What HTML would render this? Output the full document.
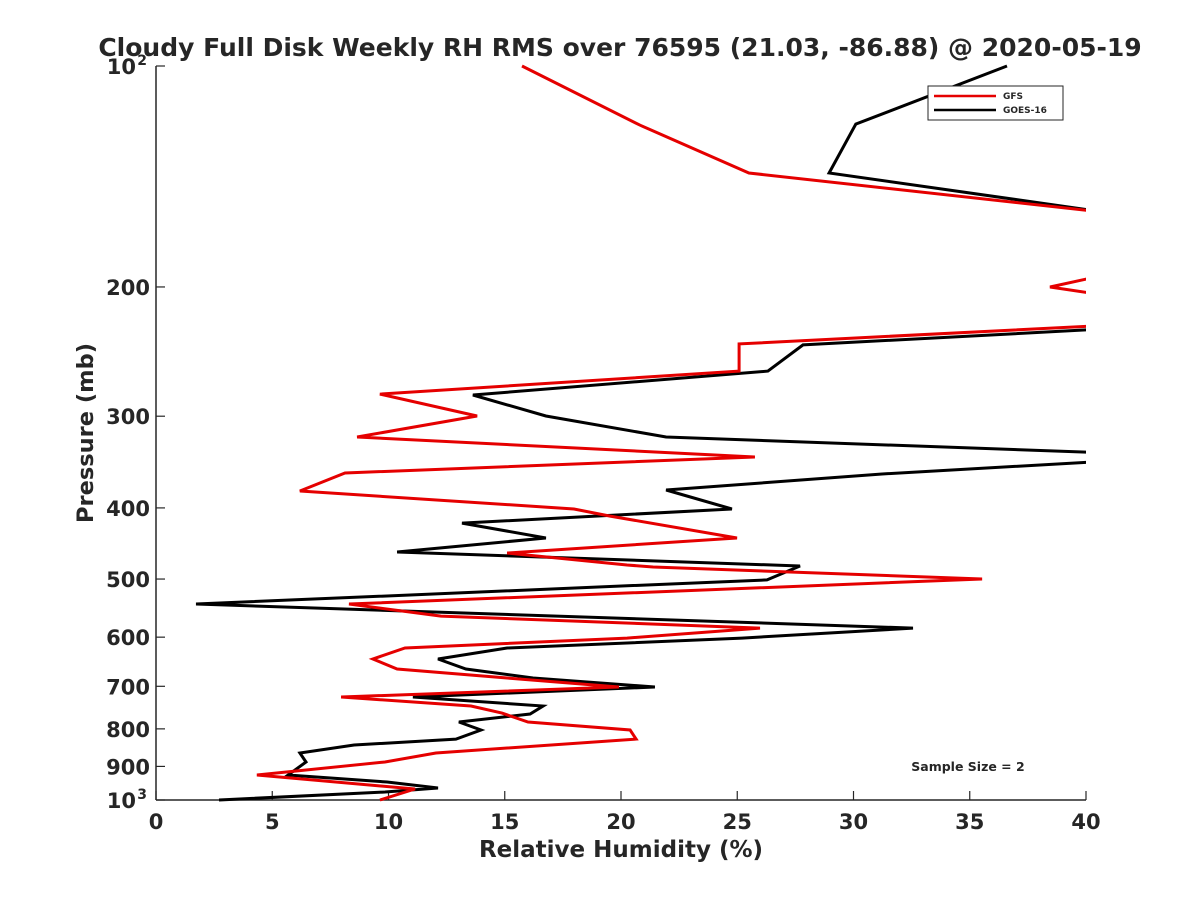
<!DOCTYPE html>
<html><head><meta charset="utf-8"><style>
body{margin:0;background:#fff}
svg text{font-family:"DejaVu Sans","Liberation Sans",sans-serif;font-weight:bold;fill:#262626}
</style></head><body>
<svg id="chart" width="1200" height="900" xmlns="http://www.w3.org/2000/svg">
<text x="620" y="56" text-anchor="middle" font-size="25">Cloudy Full Disk Weekly RH RMS over 76595 (21.03, -86.88) @ 2020-05-19</text>
<defs><clipPath id="plotclip"><rect x="156" y="60" width="930" height="742"/></clipPath></defs>
<g id="grid"></g>
<g id="series" clip-path="url(#plotclip)"></g>
<text x="621" y="857" text-anchor="middle" font-size="23">Relative Humidity (%)</text>
<text transform="translate(93,433) rotate(-90)" text-anchor="middle" font-size="22.5">Pressure (mb)</text>
<g>
<rect x="928" y="86" width="135" height="34" fill="#fff" stroke="#262626" stroke-width="1"/>
<line x1="934" y1="96" x2="996" y2="96" stroke="#e50000" stroke-width="2.5"/>
<text x="1003" y="99" font-size="9">GFS</text>
<line x1="934" y1="110" x2="996" y2="110" stroke="#000" stroke-width="2.5"/>
<text x="1003" y="113" font-size="9">GOES-16</text>
</g>
<text x="968" y="771" text-anchor="middle" font-size="12.5" fill="#000">Sample Size = 2</text>
</svg>
<script>
const xTicks=[0,5,10,15,20,25,30,35,40];
const yTicks=[100,200,300,400,500,600,700,800,900,1000];
const yTickLabels=["10|2","200","300","400","500","600","700","800","900","10|3"];
const gfsRH=[15.74,20.82,25.5,41,null,40.2,38.45,40.2,null,40.2,25.08,25.08,9.63,13.81,8.65,25.76,8.13,6.19,17.98,19.53,24.99,15.10,20.26,21.38,35.53,8.30,12.26,25.98,20.26,10.71,9.33,10.37,15.10,19.91,7.96,13.55,14.88,16.0,20.39,20.65,12.04,9.85,4.34,11.14,9.63];
const gfsP=[100,120.4,139.9,158.5,null,194.5,200,203.9,null,226.1,239.1,260.4,279.9,299.8,320.2,341,358.5,379.3,401.4,410.4,439.6,460.8,478.4,481.4,500,540.8,561.6,583.2,601.7,620.8,642.6,663.1,682.1,701.6,724,744.7,761.3,783,802.9,826,863,887.7,924.7,966,1000];
const goesRH=[36.6,30.1,28.95,41,null,41,27.83,26.32,13.63,16.77,21.94,41,41,31.23,21.94,24.77,13.16,16.77,10.37,27.7,26.28,1.72,32.56,25.2,15.10,12.13,13.33,16.22,21.46,11.05,16.65,16.09,13.03,13.98,12.9,8.52,6.19,6.45,5.68,9.94,12.13,9.85,2.71];
const goesP=[100,120,139.9,158.5,null,228,239.9,260.4,280.7,299.8,320.2,336.7,345.3,359.6,378.1,401.4,419.5,439.6,459.3,479.9,501.4,540.8,583.2,601.7,620.8,642.6,663.1,682.1,701.6,724,744.7,763.6,783,802.9,826,841.4,863,887.7,924.7,945,963,975.2,1000];

const X0=156,X1=1086,Y0=66,Y1=800;
function xs(v){return X0+(v-0)/(40-0)*(X1-X0);}
function ys(p){return Y0+(Math.log10(p)-2)*(Y1-Y0);}
const NS="http://www.w3.org/2000/svg";
const grid=document.getElementById('grid');
const series=document.getElementById('series');
function mk(tag,attrs,parent){const e=document.createElementNS(NS,tag);for(const k in attrs)e.setAttribute(k,attrs[k]);parent.appendChild(e);return e;}

const ax1=mk('line',{x1:X0,y1:Y0,x2:X0,y2:Y1,stroke:'#262626','stroke-width':1.5},grid);


const ax2=mk('line',{x1:X0,y1:Y1,x2:X1,y2:Y1,stroke:'#262626','stroke-width':1.5},grid);



xTicks.forEach((t,i)=>{
  const x=xs(t);
  const tk=mk('line',{x1:x,y1:Y1,x2:x,y2:Y1-9,stroke:'#262626','stroke-width':1.2},grid);
  
  
  const tx=mk('text',{x:x,y:Y1+29,'text-anchor':'middle','font-size':21},grid);
  tx.textContent=String(t);
  
  
});
yTicks.forEach((t,i)=>{
  const y=ys(t);
  const tk=mk('line',{x1:X0,y1:y,x2:X0+9,y2:y,stroke:'#262626','stroke-width':1.2},grid);
  
  
  const lab=yTickLabels[i];
  if(lab.indexOf('|')>=0){
    const parts=lab.split('|');
    const tx=mk('text',{x:X0-20,y:y+8,'text-anchor':'end','font-size':21},grid);
    tx.textContent=parts[0];
    
    
    const sp=mk('text',{x:X0-9,y:y-1,'text-anchor':'end','font-size':14},grid);
    sp.textContent=parts[1];
    
    
  } else {
    const tx=mk('text',{x:X0-6,y:y+8,'text-anchor':'end','font-size':21},grid);
    tx.textContent=lab;
    
    
  }
});

function pathD(rh,p){
  let d='',pen=false;
  for(let i=0;i<rh.length;i++){
    if(rh[i]===null||p[i]===null){pen=false;continue;}
    d+=(pen?'L':'M')+xs(rh[i]).toFixed(1)+','+ys(p[i]).toFixed(1);
    pen=true;
  }
  return d;
}
const g1=mk('path',{d:pathD(goesRH,goesP),fill:'none',stroke:'#000','stroke-width':3,'stroke-linejoin':'miter'},series);


const g2=mk('path',{d:pathD(gfsRH,gfsP),fill:'none',stroke:'#e50000','stroke-width':3,'stroke-linejoin':'miter'},series);


</script>
</body></html>
